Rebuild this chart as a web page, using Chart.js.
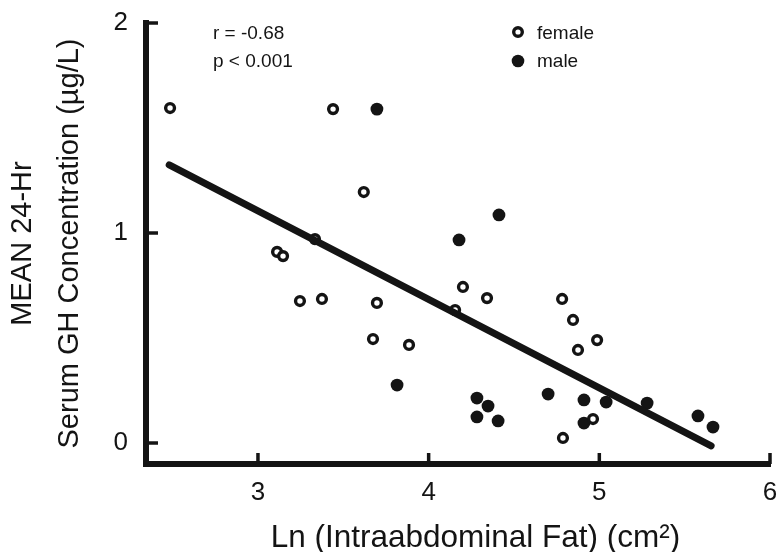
<!DOCTYPE html>
<html>
<head>
<meta charset="utf-8">
<script src="https://cdn.jsdelivr.net/npm/chart.js@4.4.1/dist/chart.umd.min.js"></script>
<style>
  body { margin: 0; background: #fff; }
</style>
</head>
<body>
<canvas id="gh-chart" width="778" height="552"></canvas>
<script>
// values
var femaleX = [2.485, 3.44, 3.62, 3.334, 3.112, 3.147, 3.246, 3.375, 3.697, 3.674, 3.885,
               4.201, 4.342, 4.155, 4.782, 4.846, 4.987, 4.875, 4.963, 4.787];
var femaleY = [1.595, 1.59, 1.195, 0.971, 0.910, 0.890, 0.676, 0.686, 0.667, 0.495, 0.467,
               0.743, 0.690, 0.633, 0.686, 0.586, 0.490, 0.443, 0.114, 0.024];
var maleX = [3.697, 4.412, 4.178, 3.815, 4.283, 4.283, 4.348, 4.407, 4.70, 4.91, 5.04,
             4.91, 5.28, 5.578, 5.666];
var maleY = [1.590, 1.086, 0.967, 0.276, 0.214, 0.124, 0.176, 0.105, 0.233, 0.205, 0.195,
             0.095, 0.190, 0.129, 0.076];
var fitX = [2.48, 5.655];
var fitY = [1.324, -0.014];
var xTicks = [3, 4, 5, 6];
var yTicks = [0, 1, 2];
var statText = ['r = -0.68', 'p < 0.001'];
var legendText = ['female', 'male'];

var ink = '#141414';
var fam = "'Liberation Sans', Arial, sans-serif";

function pts(xs, ys) {
    return xs.map(function (x, i) { return { x: x, y: ys[i] }; });
}

// short tick marks pointing into the plot, like the original
var inwardTicks = {
    id: 'inwardTicks',
    afterDraw: function (chart) {
        var ctx = chart.ctx, a = chart.chartArea;
        var sx = chart.scales.x, sy = chart.scales.y;
        ctx.save();
        ctx.strokeStyle = ink;
        ctx.lineWidth = 3.5;
        sx.ticks.forEach(function (t) {
            var px = sx.getPixelForValue(t.value);
            ctx.beginPath();
            ctx.moveTo(px, a.bottom);
            ctx.lineTo(px, a.bottom - 11);
            ctx.stroke();
        });
        sy.ticks.forEach(function (t) {
            var py = sy.getPixelForValue(t.value);
            ctx.beginPath();
            ctx.moveTo(a.left, py);
            ctx.lineTo(a.left + 12, py);
            ctx.stroke();
        });
        ctx.restore();
    }
};

// r / p values and the little legend at the top
var notes = {
    id: 'notes',
    afterDraw: function (chart) {
        var ctx = chart.ctx;
        ctx.save();
        ctx.fillStyle = ink;
        ctx.font = '19px ' + fam;
        ctx.textBaseline = 'middle';
        ctx.textAlign = 'left';
        ctx.fillText(statText[0], 213, 34);
        ctx.fillText(statText[1], 213, 62);
        ctx.fillText(legendText[0], 537, 34);
        ctx.fillText(legendText[1], 537, 62);

        ctx.beginPath();
        ctx.arc(518, 32, 4.3, 0, Math.PI * 2);
        ctx.fillStyle = '#fff';
        ctx.fill();
        ctx.lineWidth = 3.4;
        ctx.strokeStyle = ink;
        ctx.stroke();

        ctx.beginPath();
        ctx.arc(518, 61, 6.3, 0, Math.PI * 2);
        ctx.fillStyle = ink;
        ctx.fill();
        ctx.restore();
    }
};

new Chart(document.getElementById('gh-chart'), {
    type: 'scatter',
    data: {
        datasets: [
            {
                label: 'fit',
                data: pts(fitX, fitY),
                showLine: true,
                borderColor: ink,
                borderWidth: 7,
                borderCapStyle: 'round',
                pointRadius: 0,
                order: 0
            },
            {
                label: legendText[0],
                data: pts(femaleX, femaleY),
                pointRadius: 4.4,
                pointBorderWidth: 3.4,
                pointBorderColor: ink,
                pointBackgroundColor: '#fff',
                order: 1
            },
            {
                label: legendText[1],
                data: pts(maleX, maleY),
                pointRadius: 6.4,
                pointBorderWidth: 0,
                pointBackgroundColor: ink,
                order: 2
            }
        ]
    },
    options: {
        responsive: false,
        animation: false,
        layout: { padding: { top: 23, right: 8, bottom: 0, left: 0 } },
        plugins: {
            legend: { display: false },
            tooltip: { enabled: false }
        },
        scales: {
            x: {
                type: 'linear',
                min: 2.344,
                max: 6,
                afterBuildTicks: function (s) { s.ticks = xTicks.map(function (v) { return { value: v }; }); },
                afterFit: function (s) {
                    s.height = 88;
                    s.paddingLeft = 0;
                    s.paddingRight = 0;
                },
                grid: { display: false, drawTicks: false },
                border: { display: true, width: 6, color: ink },
                ticks: { color: ink, padding: 13, font: { family: fam, size: 26 } },
                title: {
                    display: true,
                    text: '\u00a0\u00a0\u00a0\u00a0Ln (Intraabdominal Fat) (cm\u00b2)',
                    color: ink,
                    padding: 0,
                    font: { family: fam, size: 31.5, lineHeight: 0.85 }
                }
            },
            y: {
                type: 'linear',
                min: -0.1,
                max: 2,
                afterBuildTicks: function (s) { s.ticks = yTicks.map(function (v) { return { value: v }; }); },
                afterFit: function (s) {
                    s.width = 146;
                    s.paddingTop = 0;
                    s.paddingBottom = 0;
                },
                grid: { display: false, drawTicks: false },
                border: { display: true, width: 6, color: ink },
                ticks: { color: ink, padding: 18, font: { family: fam, size: 26 } },
                title: {
                    display: true,
                    text: ['MEAN 24-Hr', 'Serum GH Concentration (\u00b5g/L)'],
                    color: ink,
                    padding: 0,
                    font: { family: fam, size: 29, lineHeight: 1.6 }
                }
            }
        }
    },
    plugins: [inwardTicks, notes]
});
</script>
</body>
</html>
